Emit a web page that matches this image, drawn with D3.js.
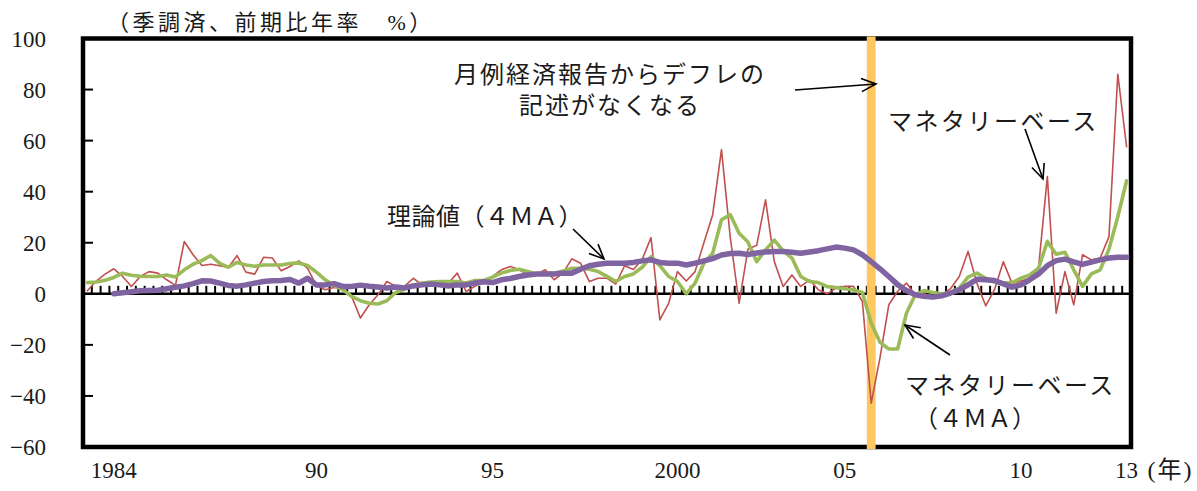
<!DOCTYPE html>
<html>
<head>
<meta charset="utf-8">
<script src="https://cdn.jsdelivr.net/npm/d3@7"></script>
<style>
  body { margin: 0; background: #fff; }
  svg text { font-family: 'Liberation Serif', 'Noto Sans CJK JP', serif; fill: #1a1a1a; }
</style>
</head>
<body>
<div id="chart"></div>
<script>
// quarters 1984Q1 .. 2013Q3
const quarters = [];
for (let yr = 1984; yr <= 2013; yr++) {
    for (let q = 1; q <= 4; q++) {
        if (yr === 2013 && q === 4) break;
        quarters.push(yr + 'Q' + q);
    }
}

// マネタリーベース (前期比年率)
const monetaryBase = [
    1.2, 5, 7.7, 9.8, 6.8, 2.9, 6.8, 8.7, 8.1, 5.5, 3.3, 20.5, 15.3, 11.1, 11.6, 11,
    10.3, 15, 8.5, 7.7, 14.3, 14, 9, 10.7, 12.9, 10, 3.3, 1.6, 2.5, 2, -1, -9.5,
    -4.3, -0.4, 4.8, 3, 2.9, 6.1, 3.5, 4.2, 4.8, 4.2, 8.1, 0.9, 2.9, 4.8, 6.8, 9.4,
    10.7, 9.5, 7.4, 7.8, 9.4, 5.5, 8.1, 13.7, 12, 4.8, 6.1, 6.1, 3.8, 11, 9.5, 13.5,
    22, -10.2, -3.7, 8.7, 5, 8.7, 20, 31, 56.5, 22, -3.7, 17.5, 19, 36.8, 12.6, 2.9,
    7.4, 2.9, 5.5, 1.6, 0, 2.2, 2.9, 2.9, -3, -42.8, -25, -4.3, 1, 4.2, -0.4, 0,
    -1, -0.5, 2, 6.8, 16.6, 4.2, -4.7, 1.6, 12.6, 4, 5, 6, 10, 45.9, -7.6, 8.7,
    -4.3, 15.3, 13.3, 14, 22.4, 86, 57.6
];

// マネタリーベース (4MA)
const monetaryBase4MA = [
    4.4, 4.6, 5.3, 6.4, 8.1, 7.3, 6.9, 6.8, 6.8, 7.4, 6.6, 9.4, 11.6, 13, 15, 12,
    10.4, 12.3, 11.3, 10.8, 11.3, 11.3, 11.3, 11.9, 12.1, 11.1, 8.5, 5.5, 3.3, 1.6, -1, -2.7,
    -3.7, -4, -2.7, 0.5, 1.8, 3.4, 4.2, 4.6, 4.8, 4.8, 4.8, 4.2, 5.2, 5.2, 6.5, 8.1,
    9.1, 9.6, 8.7, 7.8, 8.1, 8.1, 8.9, 10, 10, 9.6, 8.7, 6.8, 4.8, 6.8, 7.8, 10.4,
    14.6, 11, 6.8, 4.8, 0, 4.2, 12, 15.9, 29, 31, 23.7, 20.3, 12.6, 17.2, 21, 16.8,
    14, 6.8, 4.8, 4.4, 2.8, 2.5, 2, 1.5, 0.5, -11.5, -19, -21.6, -21.6, -7.6, -0.4, 1.3,
    0.5, 0, 0.5, 2.2, 6.5, 8.1, 6.1, 4.6, 4.2, 4.4, 6.1, 7.4, 10, 20.5, 15.5, 16.3,
    9.4, 2.9, 7.8, 9.4, 17.5, 30.2, 44.3
];

// 理論値 (4MA)
const theory4MA = [
    null, null, null, 0, 0.4, 0.8, 1.2, 1.3, 1.4, 2, 2.6, 3.1, 4, 5.1, 5, 4.2,
    3.3, 3, 3.5, 4.2, 4.8, 5.1, 5.2, 5.6, 4.2, 6.1, 3.5, 3.5, 4, 2.9, 2.9, 3.4,
    3, 2.7, 2.3, 2.7, 2.3, 3.1, 3.5, 3.8, 3.5, 3.1, 3.5, 3.5, 4.2, 4.7, 4.4, 5.5,
    6, 6.8, 7.4, 7.8, 7.8, 7.8, 8.1, 8.1, 9.6, 11, 11.6, 12, 12, 12, 12.3, 12.9,
    13.3, 12.3, 12, 12, 11.3, 12, 12.9, 13.8, 15.2, 15.8, 15.9, 15.4, 16, 16.4, 16.6, 16.6,
    16.3, 15.9, 16.4, 16.9, 17.6, 18.3, 17.9, 17.2, 15.3, 12.6, 9.8, 6.8, 3.6, 1.3, -0.4, -1,
    -1.3, -0.8, 0.3, 1.6, 3.5, 5.7, 5.5, 5.2, 3.9, 2.6, 3.5, 5.5, 7.8, 11, 13, 13.6,
    12.5, 11.5, 12.4, 13.3, 14, 14.3, 14.3
];

const yTicks = [100, 80, 60, 40, 20, 0, -20, -40, -60];
const xTickQuarters = ['1984Q4', '1990Q3', '1995Q3', '2000Q4', '2005Q3', '2010Q3', '2013Q3'];
const xTickLabels = ['1984', '90', '95', '2000', '05', '10', '13'];
const eventQuarter = '2006Q2';

const width = 1197;
const height = 491;
const plot = { left: 83, right: 1131, top: 38.5, bottom: 447 };

const svg = d3.select('#chart')
    .append('svg')
    .attr('width', width)
    .attr('height', height);

const x = d3.scaleBand()
    .domain(quarters)
    .range([plot.left, plot.right]);
const cx = q => x(q) + x.bandwidth() / 2;

const y = d3.scaleLinear()
    .domain([-60, 100])
    .range([plot.bottom, plot.top]);

// frame
svg.append('rect')
    .attr('x', plot.left)
    .attr('y', y(100))
    .attr('width', plot.right - plot.left)
    .attr('height', y(-60) - y(100))
    .attr('fill', 'none')
    .attr('stroke', '#000')
    .attr('stroke-width', 4.5);

// y ticks (inside) and labels
svg.selectAll('.ytick')
    .data(yTicks.filter(v => v !== 100 && v !== -60))
    .enter()
    .append('line')
    .attr('x1', plot.left)
    .attr('x2', plot.left + 10)
    .attr('y1', d => y(d))
    .attr('y2', d => y(d))
    .attr('stroke', '#000')
    .attr('stroke-width', 2);

svg.selectAll('.ylabel')
    .data(yTicks)
    .enter()
    .append('text')
    .attr('x', 46)
    .attr('y', d => y(d))
    .attr('dy', '0.35em')
    .attr('text-anchor', 'end')
    .style('font-size', '23px')
    .text(d => d < 0 ? '\u2212' + Math.abs(d) : d);

// zero line with quarterly ticks
svg.append('line')
    .attr('x1', plot.left)
    .attr('x2', plot.right)
    .attr('y1', y(0))
    .attr('y2', y(0))
    .attr('stroke', '#000')
    .attr('stroke-width', 2.5);

svg.selectAll('.qtick')
    .data(quarters.slice(1))
    .enter()
    .append('line')
    .attr('x1', d => x(d))
    .attr('x2', d => x(d))
    .attr('y1', y(0))
    .attr('y2', y(0) - 8)
    .attr('stroke', '#000')
    .attr('stroke-width', 2);

// x labels
svg.selectAll('.xlabel')
    .data(xTickQuarters)
    .enter()
    .append('text')
    .attr('x', d => cx(d))
    .attr('y', 478)
    .attr('text-anchor', 'middle')
    .style('font-size', '23px')
    .text((d, i) => xTickLabels[i]);

svg.append('text')
    .attr('x', cx(quarters[quarters.length - 1]) + 21)
    .attr('y', 478)
    .style('font-size', '24px')
    .style('letter-spacing', '2px')
    .text('(年)');

// event band
svg.append('rect')
    .attr('x', x(eventQuarter))
    .attr('y', y(100) - 2)
    .attr('width', x.bandwidth())
    .attr('height', y(-60) - y(100) + 4)
    .attr('fill', '#FFC75F');

// series
const line = d3.line()
    .defined(d => d.v != null)
    .x(d => cx(d.q))
    .y(d => y(d.v));

const series = [
    { values: monetaryBase, color: '#C0504D', width: 1.6 },
    { values: monetaryBase4MA, color: '#9BBB59', width: 3.6 },
    { values: theory4MA, color: '#8064A2', width: 5.5 },
];

series.forEach(s => {
    svg.append('path')
        .datum(quarters.map((q, i) => ({ q, v: s.values[i] })))
        .attr('fill', 'none')
        .attr('stroke', s.color)
        .attr('stroke-width', s.width)
        .attr('stroke-linejoin', 'round')
        .attr('stroke-linecap', 'round')
        .attr('d', line);
});

// annotations
function arrow(x1, y1, x2, y2) {
    const a = Math.atan2(y2 - y1, x2 - x1);
    const len = 16, spread = 0.42;
    svg.append('line')
        .attr('x1', x1).attr('y1', y1).attr('x2', x2).attr('y2', y2)
        .attr('stroke', '#000').attr('stroke-width', 1.6);
    svg.append('path')
        .attr('d', `M${x2 - len * Math.cos(a - spread)},${y2 - len * Math.sin(a - spread)}L${x2},${y2}L${x2 - len * Math.cos(a + spread)},${y2 - len * Math.sin(a + spread)}`)
        .attr('fill', 'none')
        .attr('stroke', '#000')
        .attr('stroke-width', 1.6);
}

const notes = [
    { text: '（季調済、前期比年率　%）', x: 107, y: 30, anchor: 'start', size: 22, ls: 3.5 },
    { text: '月例経済報告からデフレの', x: 610, y: 83, anchor: 'middle', size: 24, ls: 2 },
    { text: '記述がなくなる', x: 610, y: 114, anchor: 'middle', size: 24, ls: 2 },
    { text: '理論値（４ＭＡ）', x: 387, y: 225, anchor: 'start', size: 24, ls: 0.5 },
    { text: 'マネタリーベース', x: 888, y: 130, anchor: 'start', size: 24, ls: 2.5 },
    { text: 'マネタリーベース', x: 905, y: 394, anchor: 'start', size: 24, ls: 2.5 },
    { text: '（４ＭＡ）', x: 914, y: 427, anchor: 'start', size: 24, ls: 0.5 },
];

svg.selectAll('.note')
    .data(notes)
    .enter()
    .append('text')
    .attr('x', d => d.x)
    .attr('y', d => d.y)
    .attr('text-anchor', d => d.anchor)
    .style('font-size', d => d.size + 'px')
    .style('letter-spacing', d => d.ls + 'px')
    .text(d => d.text);

arrow(795, 90, 876, 84);
arrow(573, 229, 604, 259);
arrow(1025, 129, 1043, 179);
arrow(950, 355, 905, 325);
</script>
</body>
</html>
